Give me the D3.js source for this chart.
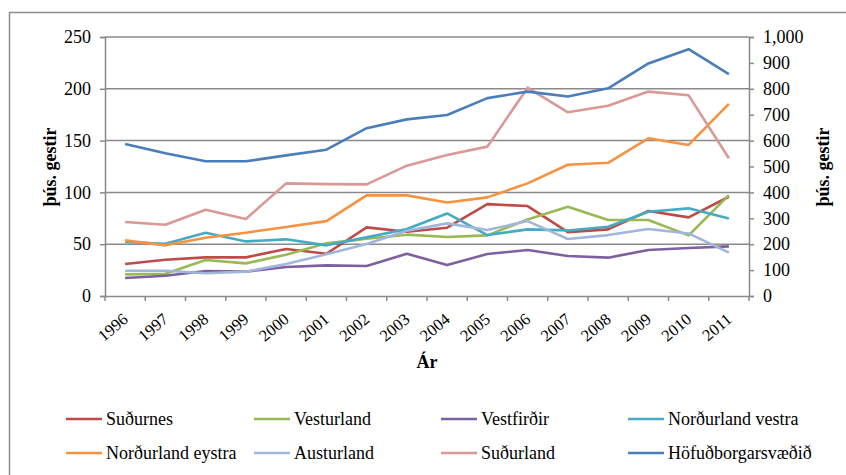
<!DOCTYPE html>
<html>
<head>
<meta charset="utf-8">
<script src="https://cdn.jsdelivr.net/npm/d3@7"></script>
<style>
  html, body { margin: 0; padding: 0; background: #fff; }
  svg { display: block; }
  svg text { font-family: "Liberation Serif", "Times New Roman", Times, "DejaVu Serif", "Noto Serif", serif !important; fill: #000; }
</style>
</head>
<body>
<svg id="chart" width="846" height="475"></svg>
<script>
// ---- Data ----
const years = ["1996","1997","1998","1999","2000","2001","2002","2003","2004","2005","2006","2007","2008","2009","2010","2011"];
const leftTicks = [0, 50, 100, 150, 200, 250];
const rightTicks = [0, 100, 200, 300, 400, 500, 600, 700, 800, 900, 1000];

// left axis series (þús. gestir)
const sudurnes        = [30.9, 35.0, 37.3, 37.3, 45.3, 40.8, 66.2, 62.0, 65.9, 88.7, 86.8, 61.7, 64.3, 82.0, 75.9, 95.8];
const vesturland      = [20.9, 21.5, 34.7, 31.5, 39.9, 50.8, 55.3, 59.2, 56.9, 58.5, 73.9, 86.2, 73.3, 73.3, 58.5, 97.4];
const vestfirdir      = [17.4, 19.6, 24.1, 23.5, 28.0, 29.6, 28.9, 40.8, 29.9, 40.5, 44.4, 38.6, 37.0, 44.4, 46.3, 47.9];
const nordurlVestra   = [52.1, 50.5, 61.1, 52.7, 54.7, 48.9, 56.6, 64.6, 79.7, 58.8, 64.3, 63.3, 66.9, 81.3, 84.6, 74.9];
const nordurlEystra   = [53.7, 48.9, 56.3, 61.1, 66.6, 72.3, 97.1, 97.1, 90.3, 95.2, 108.7, 126.7, 128.6, 152.2, 145.8, 185.4];
const austurland      = [24.4, 24.4, 21.9, 23.5, 30.9, 40.2, 50.2, 63.0, 70.1, 63.7, 72.3, 55.0, 58.8, 64.6, 60.4, 41.8];
const sudurland       = [71.4, 68.8, 83.3, 74.3, 108.7, 108.0, 107.7, 125.8, 136.1, 144.2, 201.1, 177.3, 183.7, 197.3, 193.7, 132.9];
// right axis series (þús. gestir)
const hofudborg       = [587, 551, 520, 520, 543, 565, 648, 682, 699, 764, 789, 770, 802, 898, 953, 857];

const seriesNames  = ["Suðurnes","Vesturland","Vestfirðir","Norðurland vestra","Norðurland eystra","Austurland","Suðurland","Höfuðborgarsvæðið"];
const seriesValues = [sudurnes, vesturland, vestfirdir, nordurlVestra, nordurlEystra, austurland, sudurland, hofudborg];
const seriesAxis   = ["left","left","left","left","left","left","left","right"];
const seriesColors = ["#BE4B48","#98B954","#7D60A0","#46AAC5","#F69240","#A0B7DB","#DA9896","#4A7EBB"];

// ---- Layout ----
const FONT = '"Liberation Serif", "Times New Roman", Times, "DejaVu Serif", "Noto Serif", serif';
const svg = d3.select("#chart").attr("font-family", FONT);
const L = 105, R = 749, T = 37, B = 296;
const gridColor = "#8a8a8a";

// outer frame
svg.append("rect").attr("x", 9.5).attr("y", 12.5).attr("width", 900).attr("height", 600)
  .attr("fill", "none").attr("stroke", "#8c8c8c").attr("stroke-width", 1.5);

const x = d3.scaleBand().domain(years).range([L, R]).paddingInner(0).paddingOuter(0);
const yL = d3.scaleLinear().domain([0, 250]).range([B, T]);
const yR = d3.scaleLinear().domain([0, 1000]).range([B, T]);

// gridlines
svg.append("g").selectAll("line").data(leftTicks.filter(d => d > 0)).join("line")
  .attr("x1", L).attr("x2", R).attr("y1", d => yL(d)).attr("y2", d => yL(d))
  .attr("stroke", gridColor).attr("stroke-width", 1.5);

// left axis
const gL = svg.append("g").attr("transform", `translate(${L},0)`)
  .call(d3.axisLeft(yL).tickValues(leftTicks).tickSize(5).tickPadding(9).tickFormat(d3.format("d")));
// right axis
const gR = svg.append("g").attr("transform", `translate(${R},0)`)
  .call(d3.axisRight(yR).tickValues(rightTicks).tickSize(5).tickPadding(9).tickFormat(d3.format(",")));
// bottom axis
const gB = svg.append("g").attr("transform", `translate(0,${B})`)
  .call(d3.axisBottom(x).tickSize(0).tickFormat(""));
// boundary ticks on x axis
svg.append("g").selectAll("line").data(d3.range(years.length + 1)).join("line")
  .attr("x1", i => L + i * x.step()).attr("x2", i => L + i * x.step())
  .attr("y1", B).attr("y2", B + 5)
  .attr("stroke", gridColor).attr("stroke-width", 1.5);

[gL, gR, gB].forEach(g => {
  g.attr("font-family", FONT);
  g.select(".domain").attr("stroke", gridColor).attr("stroke-width", 1.5);
  g.selectAll(".tick line").attr("stroke", gridColor).attr("stroke-width", 1.5);
  g.selectAll(".tick text").attr("font-family", FONT).attr("font-size", 18).attr("fill", "#000");
});

// x labels rotated
svg.append("g").selectAll("text").data(years).join("text")
  .attr("transform", d => `translate(${x(d) + x.bandwidth() / 2 + 4},${B + 25}) rotate(-40)`)
  .attr("text-anchor", "end")
  .attr("font-size", 16.5)
  .text(d => d);

// axis titles
svg.append("text").attr("transform", `translate(56,167) rotate(-90)`)
  .attr("text-anchor", "middle").attr("font-weight", "bold").attr("font-size", 18).text("þús. gestir");
svg.append("text").attr("transform", `translate(829,167) rotate(-90)`)
  .attr("text-anchor", "middle").attr("font-weight", "bold").attr("font-size", 18).text("þús. gestir");
svg.append("text").attr("x", 427).attr("y", 368)
  .attr("text-anchor", "middle").attr("font-weight", "bold").attr("font-size", 18).text("Ár");

// lines
const plot = svg.append("g");
seriesValues.forEach((vals, i) => {
  const ys = seriesAxis[i] === "right" ? yR : yL;
  const line = d3.line().x((d, j) => x(years[j]) + x.bandwidth() / 2).y(d => ys(d));
  plot.append("path").datum(vals).attr("d", line)
    .attr("fill", "none").attr("stroke", seriesColors[i]).attr("stroke-width", 2.6)
    .attr("stroke-linejoin", "round");
});

// legend
const legCols = [66, 254, 441, 628];
const legRows = [419, 453];
const leg = svg.append("g");
seriesNames.forEach((name, i) => {
  const cx = legCols[i % 4], cy = legRows[Math.floor(i / 4)];
  leg.append("line").attr("x1", cx).attr("x2", cx + 36).attr("y1", cy).attr("y2", cy)
    .attr("stroke", seriesColors[i]).attr("stroke-width", 2.6);
  leg.append("text").attr("x", cx + 40).attr("y", cy + 6).attr("font-size", 18).text(name);
});
</script>
</body>
</html>
